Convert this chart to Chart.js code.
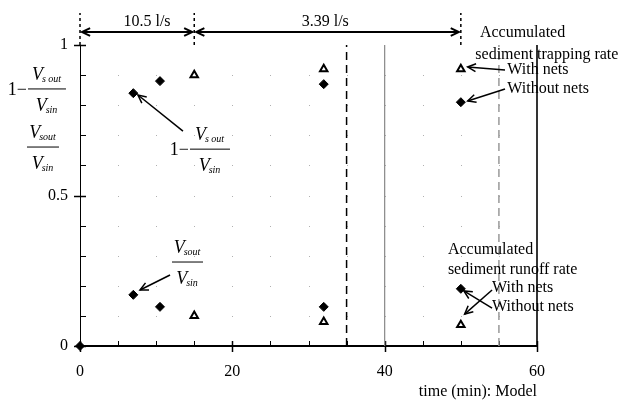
<!DOCTYPE html>
<html>
<head>
<meta charset="utf-8">
<script src="https://cdn.jsdelivr.net/npm/chart.js@4"></script>
<style>
  html, body { margin: 0; padding: 0; background: #fff; }
  #wrap { width: 624px; height: 401px; }
</style>
</head>
<body>
<div id="wrap"><canvas id="c" width="624" height="401"></canvas></div>
<script>
// data
const timesNoNets = [0, 7, 10.5, 32, 50];
const trapNoNets = [null, 0.84, 0.88, 0.87, 0.81];
const runoffNoNets = [0, 0.17, 0.13, 0.13, 0.19];
const timesNets = [15, 32, 50];
const trapNets = [0.90, 0.92, 0.92];
const runoffNets = [0.10, 0.08, 0.07];
const markerTimes = [35, 40, 55, 60];
const bracketTimes = [0, 15, 50];
const flowLabels = ['10.5 l/s', '3.39 l/s'];
const xTickLabels = [0, 20, 40, 60];
const yTickLabels = [0, 0.5, 1];

const SERIF = "'Liberation Serif', 'Times New Roman', serif";

function pts(xs, ys){ return xs.map((x,i)=>({x, y: ys[i]})).filter(p=>p.y!==null); }

const markerStyle = [
  { color: '#000', dash: [8,5], width: 1.5 },
  { color: '#888', dash: [], width: 1.2 },
  { color: '#999', dash: [8,5], width: 1.5 },
  { color: '#000', dash: [], width: 1.6 }
];

const datasets = [];
markerTimes.forEach((t,i)=>{
  datasets.push({ data: [{x:t,y:0},{x:t,y:1}], showLine: true, pointRadius: 0, clip: false,
    borderColor: markerStyle[i].color, borderDash: markerStyle[i].dash, borderWidth: markerStyle[i].width });
});
bracketTimes.forEach(t=>{
  datasets.push({ data: [{x:t,y:1},{x:t,y:1.106}], showLine: true, pointRadius: 0, clip: false,
    borderColor: '#000', borderDash: [3,3], borderWidth: 1.5 });
});
const diamond = { pointStyle: 'rectRot', pointRadius: 4.5, backgroundColor: '#000', borderColor: '#000', borderWidth: 1, clip: false };
const tri = { pointStyle: 'triangle', pointRadius: 4.3, backgroundColor: '#fff', borderColor: '#000', borderWidth: 2 };
datasets.push(Object.assign({ data: pts(timesNoNets, trapNoNets) }, diamond));
datasets.push(Object.assign({ data: pts(timesNoNets, runoffNoNets) }, diamond));
datasets.push(Object.assign({ data: pts(timesNets, trapNets) }, tri));
datasets.push(Object.assign({ data: pts(timesNets, runoffNets) }, tri));

function arrow(ctx, x1, y1, x2, y2, both, lw){
  ctx.save();
  ctx.strokeStyle = '#000'; ctx.lineWidth = lw || 1.5;
  ctx.beginPath(); ctx.moveTo(x1,y1); ctx.lineTo(x2,y2); ctx.stroke();
  const head = (hx, hy, fx, fy)=>{
    const a = Math.atan2(hy-fy, hx-fx), L = 9, s = 0.45;
    ctx.beginPath();
    ctx.moveTo(hx - L*Math.cos(a-s), hy - L*Math.sin(a-s));
    ctx.lineTo(hx, hy);
    ctx.lineTo(hx - L*Math.cos(a+s), hy - L*Math.sin(a+s));
    ctx.stroke();
  };
  head(x2,y2,x1,y1);
  if(both) head(x1,y1,x2,y2);
  ctx.restore();
}

function vsub(ctx, x, y, sub){
  ctx.font = 'italic 18px ' + SERIF;
  const w = ctx.measureText('V').width;
  const ws = (ctx.font = 'italic 10px ' + SERIF, ctx.measureText(sub).width);
  return { w: w + ws, draw(x0){
    ctx.font = 'italic 18px ' + SERIF; ctx.fillText('V', x0, y);
    ctx.font = 'italic 10px ' + SERIF; ctx.fillText(sub, x0 + w - 1, y + 4);
  }};
}

function frac(ctx, x, y, bw, numSub, denSub, prefix){
  ctx.save();
  ctx.fillStyle = '#000'; ctx.strokeStyle = '#000'; ctx.lineWidth = 1;
  ctx.textBaseline = 'middle'; ctx.textAlign = 'left';
  ctx.beginPath(); ctx.moveTo(x, y); ctx.lineTo(x + bw, y); ctx.stroke();
  const n = vsub(ctx, 0, y - 14, numSub); n.draw(x + (bw - n.w)/2);
  const d = vsub(ctx, 0, y + 17, denSub); d.draw(x + (bw - d.w)/2);
  if(prefix){
    ctx.font = '18px ' + SERIF; ctx.textAlign = 'right';
    ctx.fillText(prefix, x - 1, y + 1);
  }
  ctx.restore();
}

const decor = {
  id: 'decor',
  beforeDatasetsDraw(chart){
    const ctx = chart.ctx, xs = chart.scales.x, ys = chart.scales.y;
    ctx.save();
    ctx.fillStyle = '#b0b0b0';
    for(let t=5; t<60; t+=5){
      for(let v=1; v<10; v++){
        ctx.fillRect(Math.round(xs.getPixelForValue(t)), Math.round(ys.getPixelForValue(v/10)), 1, 1);
      }
    }
    ctx.strokeStyle = '#000'; ctx.lineWidth = 1;
    const b = ys.getPixelForValue(0), l = xs.getPixelForValue(0);
    xs.ticks.forEach(tk=>{
      const px = Math.round(xs.getPixelForValue(tk.value)) + 0.5;
      const major = xTickLabels.includes(tk.value);
      ctx.lineWidth = major ? 1.5 : 1;
      ctx.beginPath(); ctx.moveTo(px, b - 5); ctx.lineTo(px, b + (major ? 6 : 0)); ctx.stroke();
    });
    ys.ticks.forEach(tk=>{
      const py = Math.round(ys.getPixelForValue(tk.value)) + 0.5;
      const major = yTickLabels.some(v=>Math.abs(v - tk.value) < 1e-6);
      ctx.lineWidth = major ? 1.5 : 1;
      ctx.beginPath(); ctx.moveTo(l - (major ? 6 : 0), py); ctx.lineTo(l + 6, py); ctx.stroke();
    });
    ctx.restore();
  },
  afterDatasetsDraw(chart){
    const ctx = chart.ctx, xs = chart.scales.x, ys = chart.scales.y;
    const X = v=>xs.getPixelForValue(v), Y = v=>ys.getPixelForValue(v);
    // flow-rate brackets
    const ay = Y(1.043);
    arrow(ctx, X(bracketTimes[0]) + 2, ay, X(bracketTimes[1]) - 2, ay, true, 2);
    arrow(ctx, X(bracketTimes[1]) + 2, ay, X(bracketTimes[2]) - 2, ay, true, 2);
    ctx.save();
    ctx.fillStyle = '#000'; ctx.font = '16px ' + SERIF;
    ctx.textAlign = 'center'; ctx.textBaseline = 'middle';
    ctx.fillText(flowLabels[0], X(8.8), Y(1.076));
    ctx.fillText(flowLabels[1], X(32.2), Y(1.076));
    // legend-like notes
    ctx.font = '16px ' + SERIF; ctx.textAlign = 'left';
    ctx.fillText('Accumulated', X(52.5), Y(1.04));
    ctx.fillText('sediment trapping rate', X(51.9), Y(0.967));
    ctx.fillText('With nets', X(56.1), Y(0.917));
    ctx.fillText('Without nets', X(56.1), Y(0.854));
    ctx.fillText('Accumulated', X(48.3), Y(0.319));
    ctx.fillText('sediment runoff rate', X(48.3), Y(0.252));
    ctx.fillText('With nets', X(54.1), Y(0.193));
    ctx.fillText('Without nets', X(54.1), Y(0.130));
    ctx.restore();
    arrow(ctx, X(55.8), Y(0.917), X(50.9), Y(0.927));
    arrow(ctx, X(55.8), Y(0.854), X(50.9), Y(0.814));
    arrow(ctx, X(54.1), Y(0.186), X(50.5), Y(0.106));
    arrow(ctx, X(54.1), Y(0.126), X(50.4), Y(0.183));
    // formula labels
    frac(ctx, X(-6.83), Y(0.854), 38, 's out', 'sin', '1\u2212');
    frac(ctx, X(-6.96), Y(0.661), 32, 'sout', 'sin');
    frac(ctx, X(14.44), Y(0.654), 40, 's out', 'sin', '1\u2212');
    frac(ctx, X(12.08), Y(0.279), 31, 'sout', 'sin');
    arrow(ctx, X(13.52), Y(0.714), X(7.61), Y(0.834));
    arrow(ctx, X(11.82), Y(0.236), X(7.88), Y(0.186));
  }
};

new Chart(document.getElementById('c'), {
  type: 'scatter',
  data: { datasets },
  plugins: [decor],
  options: {
    responsive: false, animation: false,
    layout: { padding: { top: 45, right: 87, left: 0, bottom: 0 } },
    plugins: { legend: { display: false }, tooltip: { enabled: false } },
    scales: {
      x: {
        type: 'linear', min: 0, max: 60,
        grid: { display: false, drawTicks: false },
        border: { display: true, color: '#000', width: 2 },
        ticks: { stepSize: 5, padding: 16, color: '#000', font: { family: SERIF, size: 16 },
          callback: v => xTickLabels.includes(v) ? String(v) : '' },
        title: { display: true, text: 'time (min): Model', align: 'end', color: '#000',
          font: { family: SERIF, size: 16 }, padding: { top: 0, bottom: 0 } },
        afterFit: s => { s.height = 55; }
      },
      y: {
        min: 0, max: 1,
        grid: { display: false, drawTicks: false },
        border: { display: true, color: '#000', width: 1 },
        ticks: { stepSize: 0.1, padding: 12, color: '#000', font: { family: SERIF, size: 16 },
          callback: v => yTickLabels.some(t=>Math.abs(t - v) < 1e-6) ? String(Math.round(v*10)/10) : '' },
        afterFit: s => { s.width = 80; }
      }
    }
  }
});
</script>
</body>
</html>
